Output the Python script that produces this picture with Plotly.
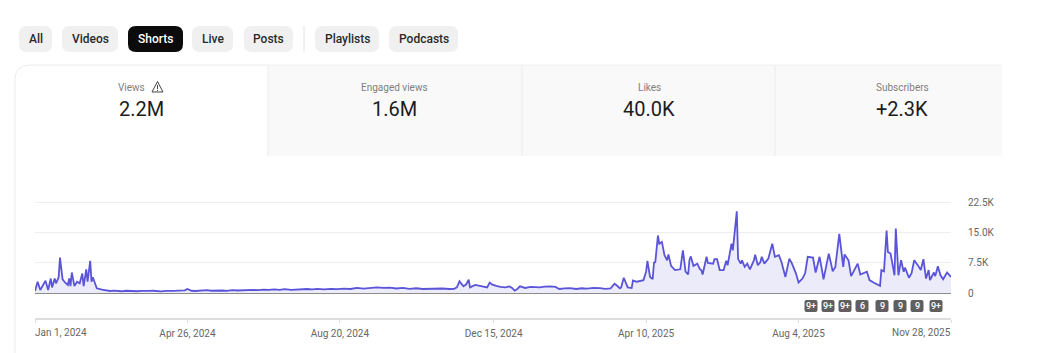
import pandas as pd
import plotly.graph_objects as go

W, H = 1050, 353
FONT = "Roboto"

day_offsets = [0,2,4,6,8,10,12,13,15,16,18,19,21,23,25,26,27,28,30,32,34,36,37,39,40,42,43,44,47,51,57,
 60,63,66,69,72,75,78,81,84,87,90,93,96,100,103,106,109,112,114,116,119,122,125,128,131,134,137,140,143,146,150,
 154,158,162,166,170,174,178,182,186,190,195,199,203,207,211,215,220,225,230,235,240,245,250,255,260,265,270,275,
 280,285,290,295,300,305,310,315,319,321,323,326,328,330,331,335,338,341,344,346,348,351,354,358,361,363,365,367,369,
 373,377,381,384,388,392,396,399,403,407,412,416,420,425,430,434,438,441,443,445,446,448,451,454,455,458,463,465,466,
 468,470,471,472,474,475,477,479,481,482,484,487,491,493,495,497,498,499,501,504,506,507,508,511,512,516,517,519,521,
 524,526,527,530,531,534,535,537,538,540,542,544,547,548,550,552,553,555,558,561,563,566,568,571,574,576,579,581,
 584,586,588,592,594,597,599,600,604,607,609,612,615,616,619,621,626,628,633,635,638,643,644,646,648,649,651,654,655,
 657,659,661,662,665,667,669,672,674,676,678,680,681,684,685,687,689,691,694,697]

views = [500,2800,750,2000,3050,750,3600,1400,3600,2400,3900,8800,3400,2550,2000,3600,1700,5100,1700,2800,2400,4850,1700,5900,2800,8000,2800,3900,1150,820,500,
 600,520,430,560,480,540,430,520,600,520,560,430,420,550,480,520,600,560,650,1000,560,500,620,580,700,560,640,700,620,520,720,
 620,720,640,760,700,850,760,900,780,960,800,880,780,1000,900,1020,900,1040,960,1100,1000,1280,1100,1220,1420,1250,1320,1120,
 1260,1050,1180,1000,1100,1020,1120,1000,1040,1400,2900,1650,2100,3300,1400,2000,1800,1550,1400,2600,2060,1750,1500,1400,1650,1250,570,1000,1650,
 1250,1500,1450,1400,1600,1650,1500,1000,1150,1200,1000,1180,1100,1250,1200,1030,1150,2300,1800,1150,1400,3800,1400,1230,3100,2800,3200,5300,8000,
 4000,3450,7570,7700,14300,12260,12700,9400,8150,9600,6750,5700,5900,10600,5300,4600,8200,9100,6750,7300,5900,5700,4600,9000,7500,7300,8400,8400,5700,
 5700,8000,6900,12260,10600,20300,8500,7300,8100,6500,7300,5900,8100,9500,6900,7700,9000,7300,8550,12260,9000,9400,7700,4000,8550,7300,4900,2630,
 3600,4900,9000,8800,5100,9000,5400,3400,9800,5400,6500,14700,6500,9600,8150,4200,7300,4600,5300,3200,2600,1800,5700,5400,15500,10200,9800,4400,16000,
 4400,8150,5300,6300,3800,4900,8150,6800,5700,8400,3600,5700,3200,5100,4200,6650,4400,3400,5100,4000]

assert len(day_offsets) == len(views)

start_date = "2024-01-01"
dates = pd.Timestamp(start_date) + pd.to_timedelta(day_offsets, unit="D")

y_ticks = [0, 7500, 15000, 22500]
y_labels = ["0", "7.5K", "15.0K", "22.5K"]
x_ticks = ["2024-01-01", "2024-04-26", "2024-08-20", "2024-12-15", "2025-04-10", "2025-08-04", "2025-11-28"]
x_labels = ["", "Apr 26, 2024", "Aug 20, 2024", "Dec 15, 2024", "Apr 10, 2025", "Aug 4, 2025", ""]

filters = ["All", "Videos", "Shorts", "Live", "Posts", "Playlists", "Podcasts"]
filter_edges = [(19, 52), (62, 118), (128, 183), (192, 233), (244, 293), (315, 379), (389, 458)]
metric_names = ["Views", "Engaged views", "Likes", "Subscribers"]
metric_values = ["2.2M", "1.6M", "40.0K", "+2.3K"]
metric_centers = [141, 394, 649, 902]
badges = ["9+", "9+", "9+", "6", "9", "9", "9", "9+"]
badge_centers = [811, 828, 845, 862, 882, 900, 917, 936]


def px(x):
    return x / W


def py(y):
    return 1 - y / H


def rrect(x0, y0, x1, y1, r):
    c = lambda x, y: f"{px(x):.5f},{py(y):.5f}"
    return (f"M{c(x0 + r, y0)} L{c(x1 - r, y0)} Q{c(x1, y0)} {c(x1, y0 + r)} "
            f"L{c(x1, y1 - r)} Q{c(x1, y1)} {c(x1 - r, y1)} L{c(x0 + r, y1)} "
            f"Q{c(x0, y1)} {c(x0, y1 - r)} L{c(x0, y0 + r)} Q{c(x0, y0)} {c(x0 + r, y0)} Z")


def rect(x0, y0, x1, y1, fill):
    return dict(type="rect", xref="paper", yref="paper", x0=px(x0), x1=px(x1), y0=py(y0), y1=py(y1),
                fillcolor=fill, line_width=0, layer="below")


def line(x0, y0, x1, y1, color, width=1):
    return dict(type="line", xref="paper", yref="paper", x0=px(x0), x1=px(x1), y0=py(y0), y1=py(y1),
                line=dict(color=color, width=width), layer="below")


def text(x, y, s, size, color, anchor="center", weight=400):
    return dict(xref="paper", yref="paper", x=px(x), y=py(y), text=s, showarrow=False, xanchor=anchor,
                yanchor="middle", font=dict(family=FONT, size=size, color=color, weight=weight))


shapes, annotations = [], []

for name, (a, b) in zip(filters, filter_edges):
    active = name == "Shorts"
    shapes.append(dict(type="path", xref="paper", yref="paper", path=rrect(a, 26, b, 52, 8),
                       fillcolor="#0b0b0b" if active else "#f0f0f0", line_width=0, layer="below"))
    annotations.append(text((a + b) / 2, 39, name, 12, "#ffffff" if active else "#2a2a2a", weight=500))
shapes.append(line(304, 26, 304, 52, "#e2e2e2"))

# tabs
shapes.append(rect(268, 65, 1002, 156, "#f9f9f9"))
for x in (268, 522, 775):
    shapes.append(line(x, 65, x, 156, "#ececec"))
shapes.append(line(268, 65, 1002, 65, "#f0f0f0"))
# card outline
c = lambda x, y: f"{px(x):.5f},{py(y):.5f}"
shapes.append(dict(type="path", xref="paper", yref="paper",
                   path=f"M{c(15, 353)} L{c(15, 80)} Q{c(15, 65)} {c(30, 65)} L{c(268, 65)}",
                   line=dict(color="#ececec", width=1), layer="below"))

for i, (n, v, x) in enumerate(zip(metric_names, metric_values, metric_centers)):
    annotations.append(text(131 if i == 0 else x, 87, n, 10, "#7f7f7f"))
    annotations.append(text(x, 109, v, 20, "#1c1c1c"))

# warning icon beside Views
shapes.append(dict(type="path", xref="paper", yref="paper",
                   path=f"M{c(157.5, 81.5)} L{c(163, 92)} L{c(152, 92)} Z",
                   line=dict(color="#444444", width=1), layer="above"))
shapes.append(line(157.5, 85, 157.5, 89, "#444444"))
shapes.append(line(157.5, 90, 157.5, 91, "#444444"))

for b, x in zip(badges, badge_centers):
    shapes.append(dict(type="path", xref="paper", yref="paper", path=rrect(x - 6.5, 300, x + 6.5, 312, 2),
                       fillcolor="#5f5f5f", line_width=0, layer="above"))
    annotations.append(text(x, 306, b, 9, "#ffffff", weight=500))

annotations.append(dict(xref="x", yref="paper", x=x_ticks[0], y=py(332), text="Jan 1, 2024", showarrow=False,
                        xanchor="left", yanchor="middle", xshift=-2, font=dict(family=FONT, size=10, color="#666666")))
annotations.append(dict(xref="x", yref="paper", x=x_ticks[-1], y=py(332), text="Nov 28, 2025", showarrow=False,
                        xanchor="right", yanchor="middle", xshift=2, font=dict(family=FONT, size=10, color="#666666")))

fig = go.Figure(go.Scatter(x=dates, y=views, mode="lines", fill="tozeroy", fillcolor="#ecebf9",
                           line=dict(color="#5a54d8", width=1.8), hoverinfo="skip"))

units_per_px = 22500 / (293 - 202.5)
fig.update_layout(
    width=W, height=H, margin=dict(l=0, r=0, t=0, b=0, autoexpand=False), paper_bgcolor="#ffffff", plot_bgcolor="rgba(0,0,0,0)",
    showlegend=False, shapes=shapes, annotations=annotations, font=dict(family=FONT),
    xaxis=dict(domain=[px(35), px(951)], range=[x_ticks[0], x_ticks[-1]], type="date", automargin=False,
               tickmode="array", tickvals=x_ticks, ticktext=x_labels, showgrid=False,
               showline=True, linecolor="#dddddd", linewidth=2, ticks="outside", ticklen=3, tickcolor="#dddddd",
               tickfont=dict(family=FONT, size=10, color="#666666"), ticklabelstandoff=2, zeroline=False),
    yaxis=dict(domain=[py(318), py(200.5)], range=[-(318 - 293) * units_per_px, 22500 + 2 * units_per_px], automargin=False,
               side="right", tickmode="array", tickvals=y_ticks, ticktext=y_labels,
               showgrid=True, gridcolor="#eeeeee", gridwidth=1, showline=False, ticks="",
               ticklabelstandoff=16, zeroline=True, zerolinecolor="#8c8c8c", zerolinewidth=1.2,
               tickfont=dict(family=FONT, size=10, color="#666666")),
)

fig.write_html("out.html", config=dict(displayModeBar=False, responsive=False),
               post_script="document.body.style.margin='0';")
